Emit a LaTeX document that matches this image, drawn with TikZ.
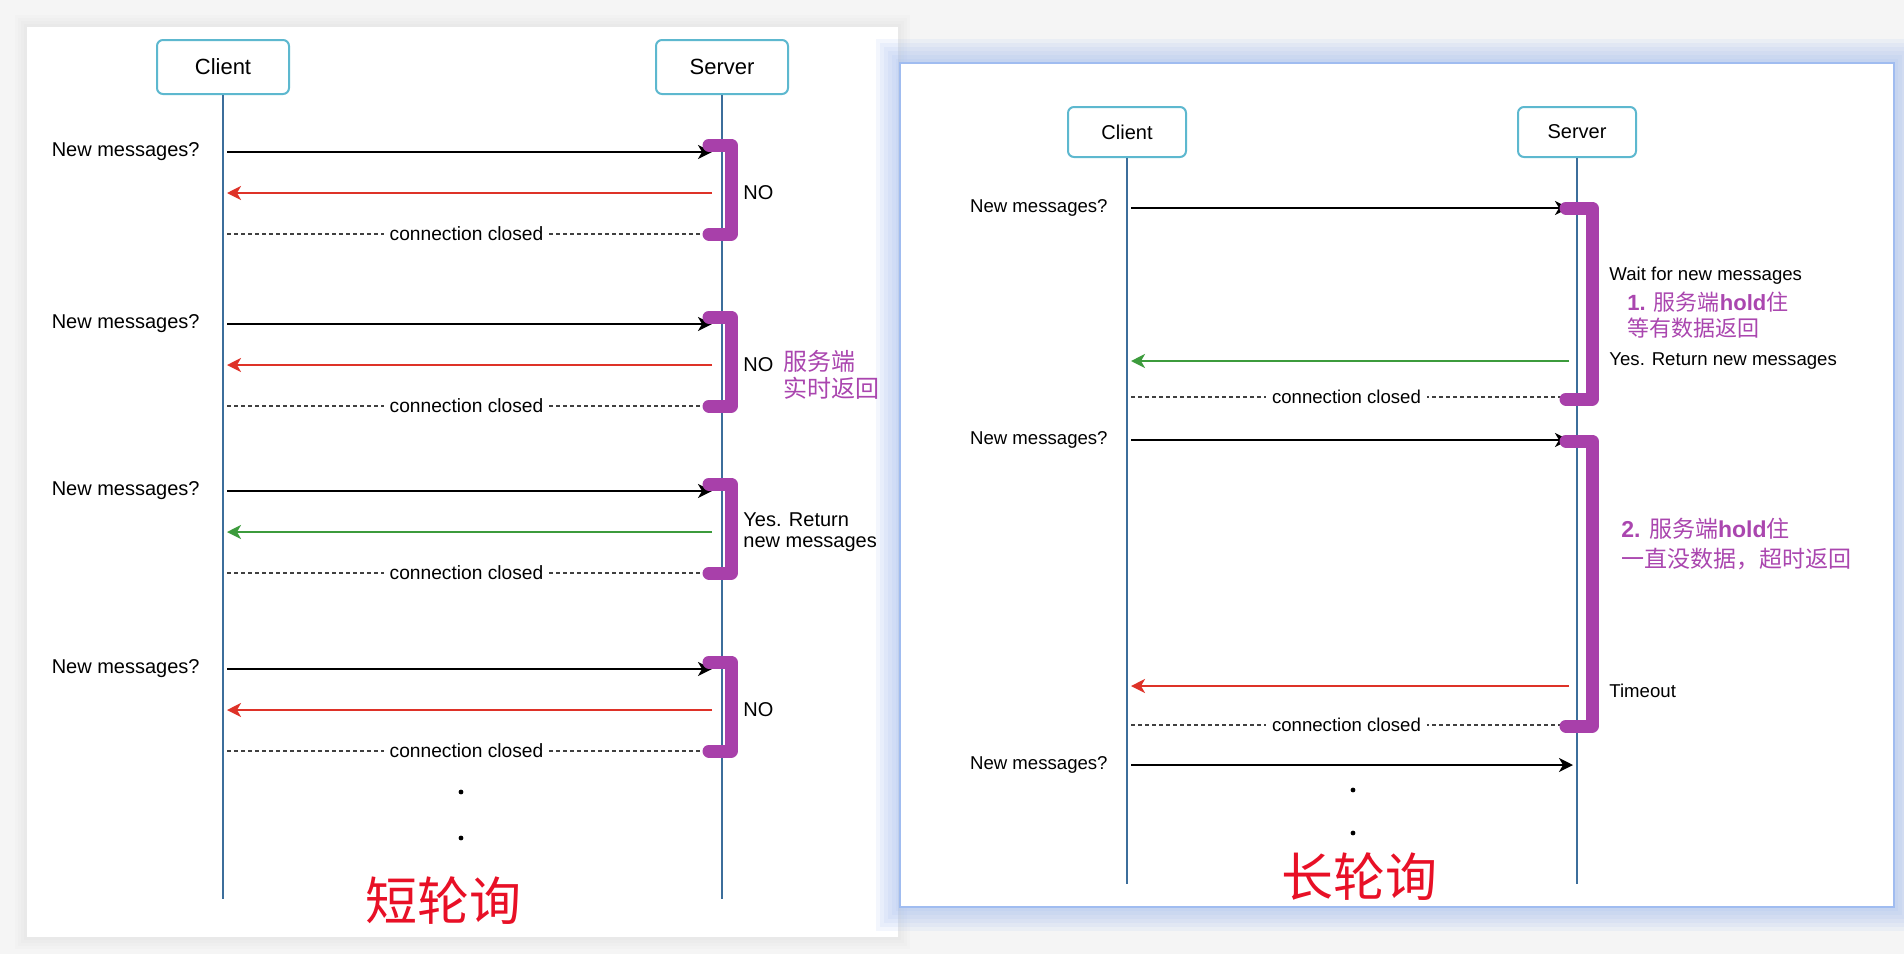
\documentclass[tikz,border=0pt]{standalone}
\usepackage{fontspec}
\setmainfont{Liberation Sans}
\newfontfamily\cjkfont{Noto Sans CJK SC}
\usetikzlibrary{arrows.meta, positioning}

\definecolor{pagegray}{RGB}{245,245,245}
\definecolor{glowblue}{RGB}{160,188,240}
\definecolor{lifeblue}{RGB}{60,110,155}
\definecolor{boxteal}{RGB}{93,184,207}
\definecolor{holdpurple}{RGB}{168,64,170}
\definecolor{noteink}{RGB}{170,70,175}
\definecolor{replyred}{RGB}{222,50,40}
\definecolor{replygreen}{RGB}{60,155,60}
\definecolor{titlered}{RGB}{232,16,38}

\begin{document}
\begin{tikzpicture}[x=0.5pt, y=-0.5pt,
    party/.style={draw=boxteal, line width=1pt, rounded corners=3pt, fill=white, minimum width=66pt, minimum height=27pt, font=\fontsize{11}{13}\selectfont},
    smallparty/.style={party, minimum width=59pt, minimum height=25pt, font=\fontsize{10}{12}\selectfont},
    lifeline/.style={draw=lifeblue, line width=0.7pt},
    req/.style={-{Stealth[length=7pt, width=7pt, inset=2pt]}, line width=1.1pt},
    reply/.style={req, draw=#1},
    closed/.style={draw=black!75, line width=0.6pt, dash pattern=on 2pt off 1.5pt},
    hold/.style={draw=holdpurple, line width=6.5pt, line cap=round, line join=round},
    msg/.style={font=\fontsize{10}{10.5}\selectfont, inner sep=1pt},
    cmsg/.style={font=\fontsize{9.6}{10.5}\selectfont, inner sep=1pt, fill=white, inner xsep=3pt},
    smallmsg/.style={font=\fontsize{9.3}{11}\selectfont, inner sep=1pt},
    note/.style={text=noteink, font=\cjkfont\fontsize{12}{13.5}\selectfont, align=left, inner sep=0pt},
    pollname/.style={text=titlered, font=\cjkfont\fontsize{26}{30}\selectfont}
]
\useasboundingbox (0,0) rectangle (1904,954);
\fill[pagegray] (0,0) rectangle (1904,954);
\foreach \w in {3,6,9,12} \draw[black, opacity=0.012, line width=\w pt] (27,27) rectangle (898,937);
\fill[white] (27,27) rectangle (898,937);
\foreach \w in {4,8,12,16,20,24} \draw[glowblue, opacity=0.12, line width=\w pt] (900,63) rectangle (1894,907);
\fill[white] (900,63) rectangle (1894,907);
\draw[glowblue, line width=1.2pt] (900,63) rectangle (1894,907);

\node[party] (lc) at (223,67) {Client};
\node[party] (ls) at (722,67) {Server};
\coordinate (lcend) at (223,899);
\coordinate (lsend) at (722,899);
\draw[lifeline] (lc) -- (lcend);
\draw[lifeline] (ls) -- (lsend);

\foreach \y/\c/\txt [count=\i] in {152/replyred/NO, 324/replyred/NO, 491/replygreen/{Yes. Return\\new messages}, 669/replyred/NO} {
  \coordinate (lq\i) at (227,\y);
  \coordinate (sq\i) at (712,\y);
  \coordinate (sa\i) at (712,\y+41);
  \coordinate (la\i) at (227,\y+41);
  \coordinate (sx\i) at (706,\y+82);
  \coordinate (lx\i) at (227,\y+82);
  \node[msg, anchor=east] (ask\i) at (202,\y) {New messages?};
  \draw[req] (lq\i) -- (sq\i);
  \draw[reply=\c] (sa\i) -- (la\i);
  \draw[closed] (lx\i) -- node[cmsg] (cc\i) {connection closed} (sx\i);
  \node[msg, anchor=west, align=left] (ans\i) at (741,\y+41) {\txt};
  \draw[hold] (709,\y-7) -- (731,\y-7) -- (731,\y+82) -- (709,\y+82);
}
\node[note, anchor=west] (rt) at (783,375) {服务端\\实时返回};
\fill (461,792) circle[radius=1.2pt];
\fill (461,838) circle[radius=1.2pt];
\node[pollname] (shortpoll) at (443,901) {短轮询};

\node[smallparty] (rc) at (1127,132) {Client};
\node[smallparty] (rs) at (1577,132) {Server};
\coordinate (rcend) at (1127,884);
\coordinate (rsend) at (1577,884);
\draw[lifeline] (rc) -- (rcend);
\draw[lifeline] (rs) -- (rsend);

\coordinate (rq1) at (1131,208);
\coordinate (ss1) at (1569,208);
\coordinate (ss2) at (1569,361);
\coordinate (rq2) at (1131,361);
\coordinate (rq3) at (1131,397);
\coordinate (ss3) at (1562,397);
\coordinate (rq4) at (1131,440);
\coordinate (ss4) at (1569,440);
\coordinate (ss5) at (1569,686);
\coordinate (rq5) at (1131,686);
\coordinate (rq6) at (1131,725);
\coordinate (ss6) at (1562,725);
\coordinate (rq7) at (1131,765);
\coordinate (ss7) at (1573,765);

\node[smallmsg, anchor=east] (rask1) at (1110,208) {New messages?};
\node[smallmsg, anchor=east] (rask2) at (1110,440) {New messages?};
\node[smallmsg, anchor=east] (rask3) at (1110,765) {New messages?};
\draw[req] (rq1) -- (ss1);
\draw[reply=replygreen] (ss2) -- (rq2);
\draw[closed] (rq3) -- node[smallmsg, fill=white, inner xsep=3pt] (rcc1) {connection closed} (ss3);
\draw[req] (rq4) -- (ss4);
\draw[reply=replyred] (ss5) -- (rq5);
\draw[closed] (rq6) -- node[smallmsg, fill=white, inner xsep=3pt] (rcc2) {connection closed} (ss6);
\draw[req] (rq7) -- (ss7);
\draw[hold] (1566,208) -- (1592,208) -- (1592,399) -- (1566,399);
\draw[hold] (1566,441) -- (1592,441) -- (1592,726) -- (1566,726);

\node[smallmsg, anchor=west] (wait) at (1607,276) {Wait for new messages};
\node[note, anchor=west, font=\fontsize{11}{13}\selectfont] (hold1) at (1627,315) {{\bfseries 1.} {\cjkfont 服务端}{\bfseries hold}{\cjkfont 住}\\{\cjkfont 等有数据返回}};
\node[smallmsg, anchor=west] (yes) at (1607,361) {Yes. Return new messages};
\node[note, anchor=west, font=\fontsize{11.5}{15}\selectfont] (hold2) at (1621,544) {{\bfseries 2.} {\cjkfont 服务端}{\bfseries hold}{\cjkfont 住}\\{\cjkfont 一直没数据，超时返回}};
\node[smallmsg, anchor=west] (tout) at (1607,691) {Timeout};
\fill (1353,790) circle[radius=1.2pt];
\fill (1353,833) circle[radius=1.2pt];
\node[pollname] (longpoll) at (1359,877) {长轮询};
\end{tikzpicture}
\end{document}
